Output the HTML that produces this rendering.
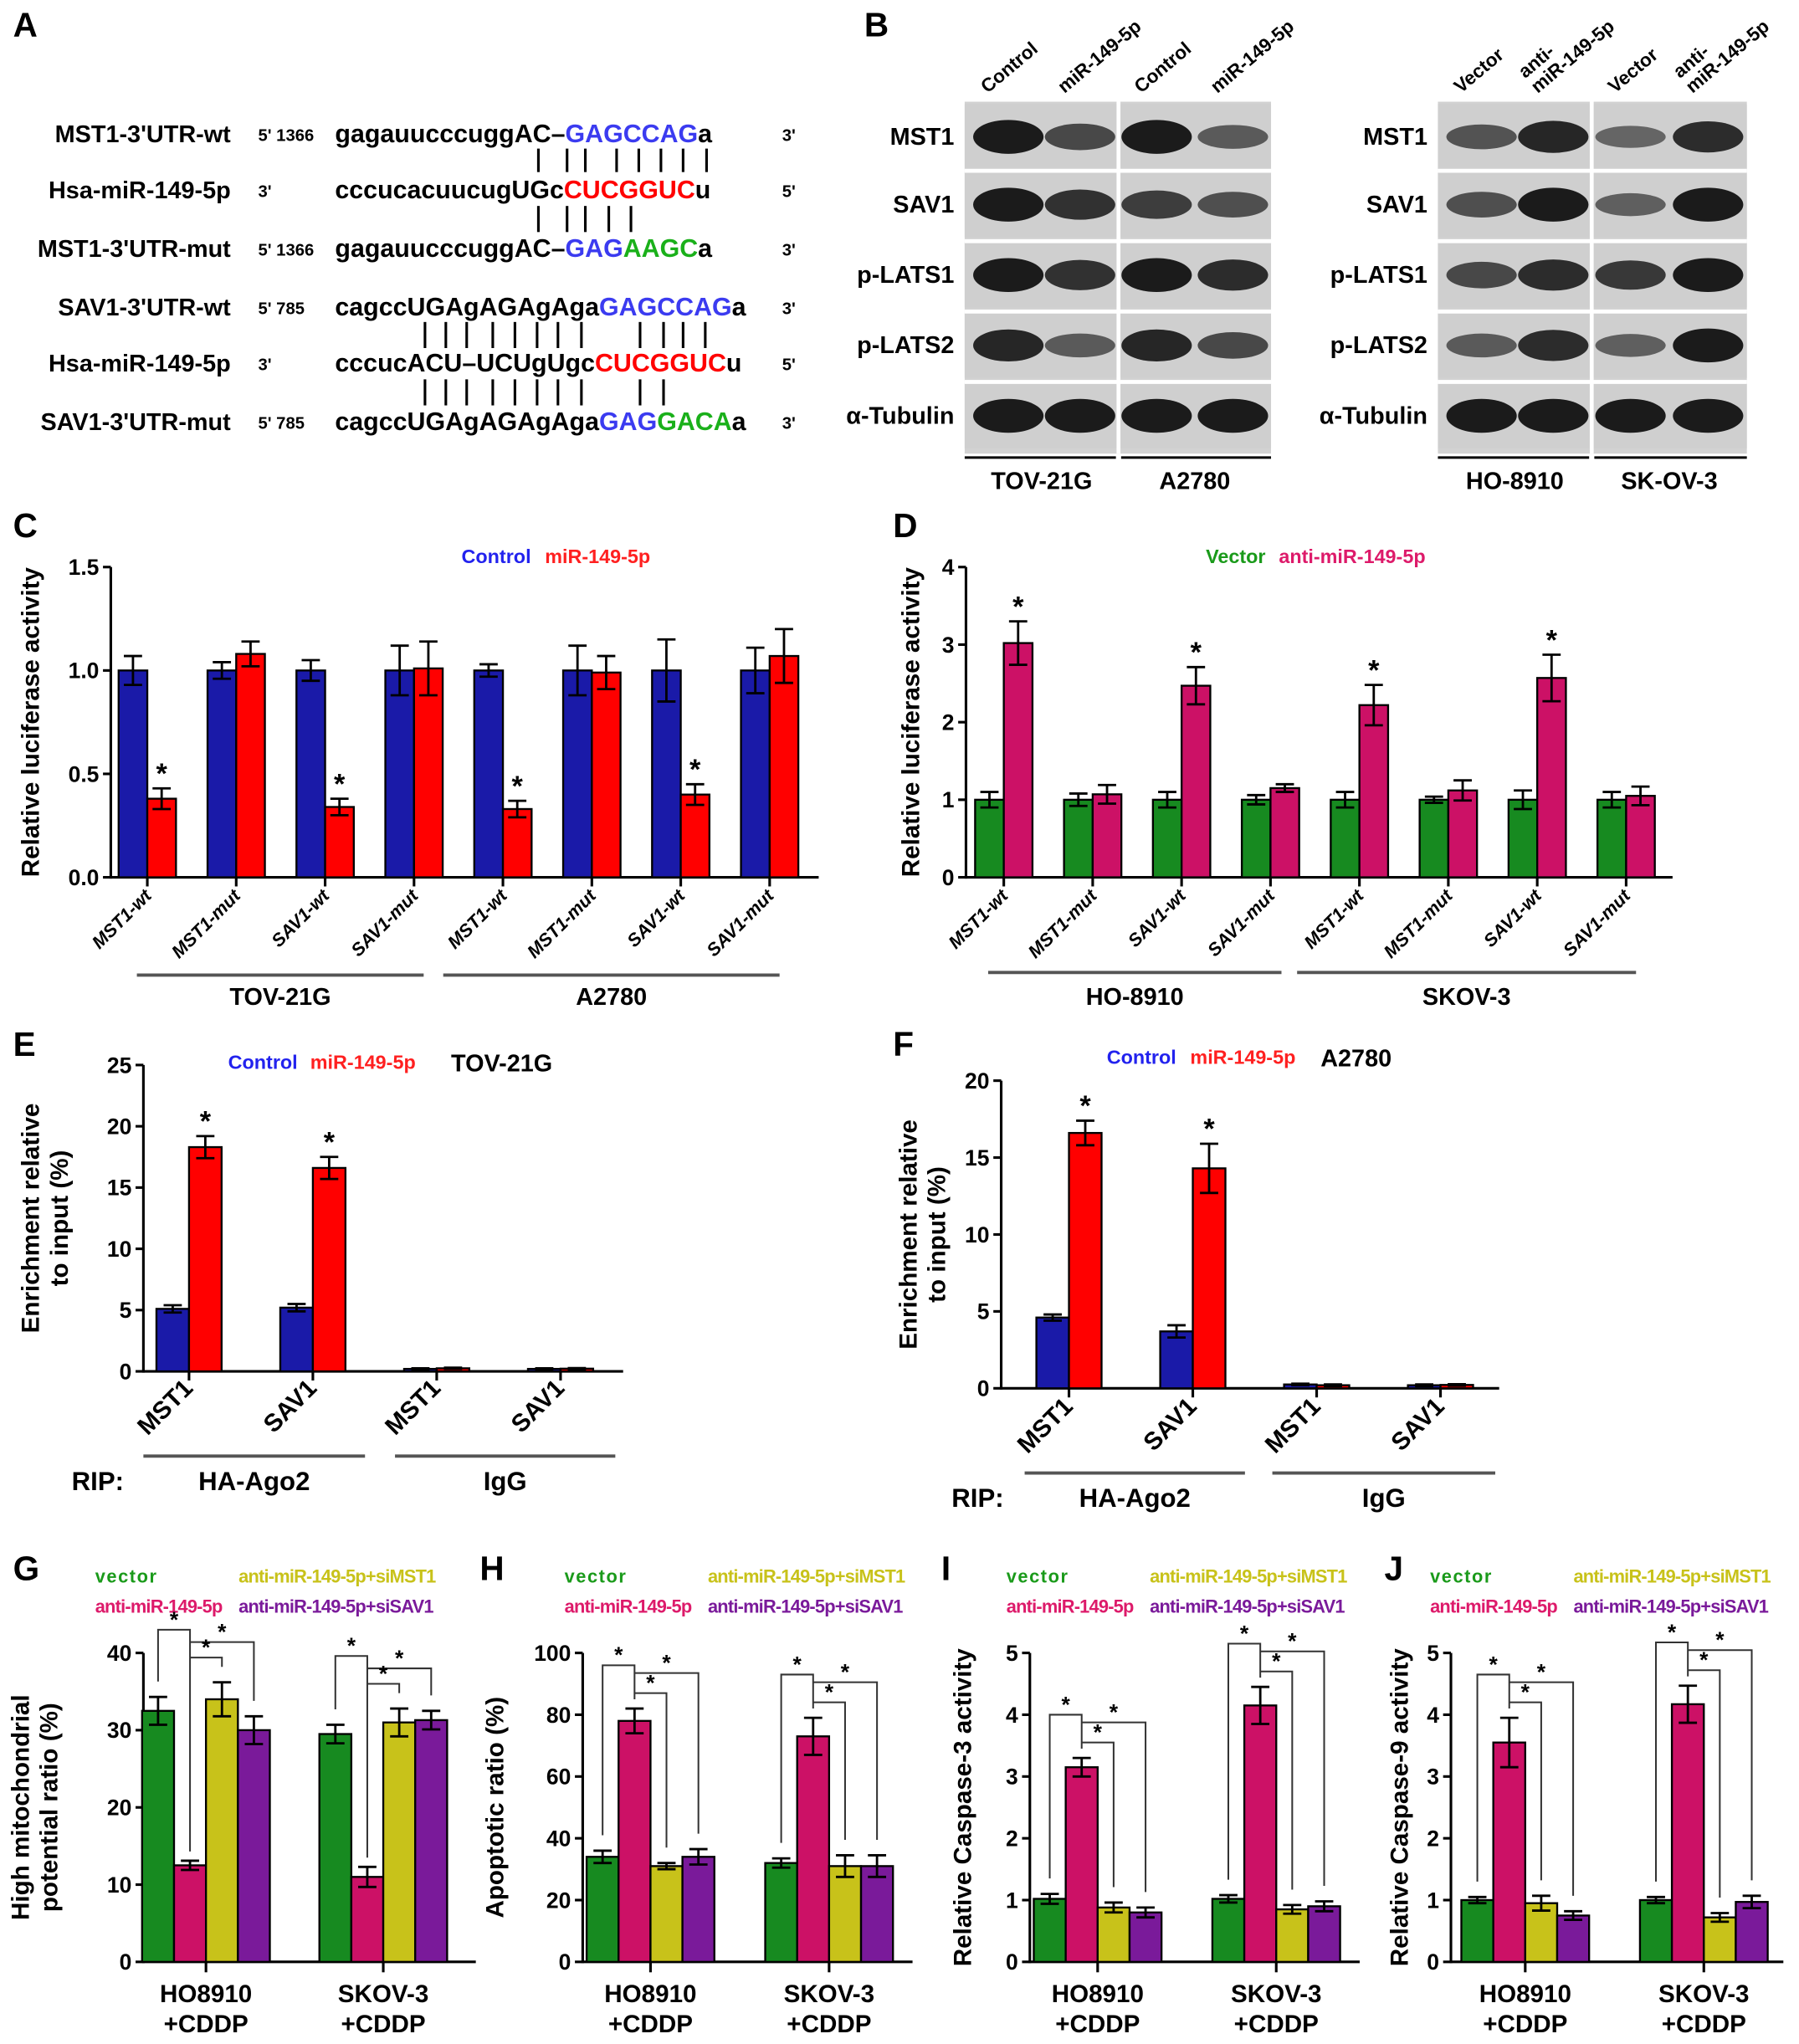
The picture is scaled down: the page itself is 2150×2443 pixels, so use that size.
<!DOCTYPE html>
<html><head><meta charset="utf-8"><style>
html,body{margin:0;padding:0;background:#fff}
svg{display:block}
text{font-family:"Liberation Sans",Arial,sans-serif;font-weight:bold}
</style></head><body>
<svg id="fig" xmlns="http://www.w3.org/2000/svg" width="2150" height="2443" viewBox="0 0 1380 1568" preserveAspectRatio="none">
<g id="panelA">
<text x="10" y="28" font-size="26">A</text>
<g font-size="18.5" text-anchor="end">
<text x="177" y="109">MST1-3'UTR-wt</text>
<text x="177" y="152">Hsa-miR-149-5p</text>
<text x="177" y="197">MST1-3'UTR-mut</text>
<text x="177" y="242">SAV1-3'UTR-wt</text>
<text x="177" y="285">Hsa-miR-149-5p</text>
<text x="177" y="330">SAV1-3'UTR-mut</text>
</g>
<g font-size="13">
<text x="198" y="108">5' 1366</text><text x="198" y="151">3'</text><text x="198" y="196">5' 1366</text>
<text x="198" y="241">5' 785</text><text x="198" y="284">3'</text><text x="198" y="329">5' 785</text>
<text x="600" y="108">3'</text><text x="600" y="151">5'</text><text x="600" y="196">3'</text>
<text x="600" y="241">3'</text><text x="600" y="284">5'</text><text x="600" y="329">3'</text>
</g>
<g font-size="19.5">
<text x="257" y="109">gagauucccuggAC–<tspan fill="#3b3bf0">GAGCCAG</tspan>a</text>
<text x="257" y="152">cccucacuucugUGc<tspan fill="#ff0000">CUCGGUC</tspan>u</text>
<text x="257" y="197">gagauucccuggAC–<tspan fill="#3b3bf0">GAG</tspan><tspan fill="#1ab01a">AAGC</tspan>a</text>
<text x="257" y="242">cagccUGAgAGAgAga<tspan fill="#3b3bf0">GAGCCAG</tspan>a</text>
<text x="257" y="285">cccucACU–UCUgUgc<tspan fill="#ff0000">CUCGGUC</tspan>u</text>
<text x="257" y="330">cagccUGAgAGAgAga<tspan fill="#3b3bf0">GAG</tspan><tspan fill="#1ab01a">GACA</tspan>a</text>
</g>
<g id="pipes" stroke="#000" stroke-width="2"></g>
</g>
<g id="panelB"></g>
<g id="charts"></g>
</svg>
<script>
const NS="http://www.w3.org/2000/svg";
function el(tag,attrs,parent,txt){const e=document.createElementNS(NS,tag);for(const k in attrs)e.setAttribute(k,attrs[k]);if(txt!==undefined)e.textContent=txt;(parent||document.getElementById('charts')).appendChild(e);return e;}

const pipes=document.getElementById('pipes');
[[413,435,449,473,490,507,524,542],[413,435,449,467,484]].forEach((xs,i)=>{
  const ys=i==0?[114,132]:[158,178];
  xs.forEach(x=>el('line',{x1:x,y1:ys[0],x2:x,y2:ys[1]},pipes));
});
[[326,342,358,378,395,412,428,446,491,509,524,541],[326,342,358,378,395,412,428,446,491,509]].forEach((xs,i)=>{
  const ys=i==0?[247,267]:[291,311];
  xs.forEach(x=>el('line',{x1:x,y1:ys[0],x2:x,y2:ys[1]},pipes));
});

const blotRows=['MST1','SAV1','p-LATS1','p-LATS2','α-Tubulin'];
const blotLeftIntensity=[[1,0.6,1,0.45],[1,0.8,0.7,0.55],[1,0.8,1,0.85],[0.9,0.45,0.9,0.6],[1,1,1,1]];
const blotRightIntensity=[[0.5,0.9,0.35,0.85],[0.55,1,0.4,1],[0.6,0.85,0.75,1],[0.45,0.85,0.4,1],[1,1,1,1]];
const B=document.getElementById('panelB');
el('text',{x:663,y:28,'font-size':26},B,'B');
function blot(x0,x1,mid,intens,heads,cells){
  const rowTop=[80,132,186,240,294],rowH=50;
  const bg=el('rect',{x:x0,y:78,width:x1-x0,height:270,fill:'#d2d2d2'},B);
  
  blotRows.forEach((r,i)=>{
    const t=el('text',{x:x0-8,y:rowTop[i]+31,'font-size':18.5,'text-anchor':'end'},B,r);
    
    el('rect',{x:x0,y:rowTop[i],width:x1-x0,height:rowH,fill:'#cfcfcf'},B);
    const cw=(mid-x0)/2, cw2=(x1-mid)/2;
    const cx=[x0+cw*0.5+4,x0+cw*1.5,mid+cw2*0.5,mid+cw2*1.5];
    intens[i].forEach((v,j)=>{
      const e=el('ellipse',{cx:cx[j],cy:rowTop[i]+25,rx:27,ry:6+v*7,fill:'#111','fill-opacity':0.35+0.6*v},B);
      
    });
    if(i>0)el('line',{x1:x0,y1:rowTop[i]-1,x2:x1,y2:rowTop[i]-1,stroke:'#fff','stroke-width':3},B);
  });
  el('line',{x1:mid,y1:78,x2:mid,y2:348,stroke:'#fff','stroke-width':3},B);
  heads.forEach((h,j)=>{
    const cw=(mid-x0)/2, cw2=(x1-mid)/2;
    const cx=[x0+cw*0.5,x0+cw*1.5,mid+cw2*0.5,mid+cw2*1.5][j];
    const t=el('text',{x:cx-12,y:72,'font-size':14.5,transform:`rotate(-40 ${cx-12} 72)`,'font-weight':'normal'},B);
    h.forEach((s,k)=>el('tspan',{x:cx-12,dy:k?-15:0},t,s));
    
  });
  el('line',{x1:x0,y1:351,x2:mid-2,y2:351,stroke:'#000','stroke-width':2},B);
  el('line',{x1:mid+2,y1:351,x2:x1,y2:351,stroke:'#000','stroke-width':2},B);
  el('text',{x:(x0+mid)/2,y:375,'font-size':18.5,'text-anchor':'middle'},B,cells[0]);
  el('text',{x:(mid+x1)/2,y:375,'font-size':18.5,'text-anchor':'middle'},B,cells[1]);
}
blot(740,975,858,blotLeftIntensity,[['Control'],['miR-149-5p'],['Control'],['miR-149-5p']],['TOV-21G','A2780']);
blot(1103,1340,1221,blotRightIntensity,[['Vector'],['miR-149-5p','anti-'],['Vector'],['miR-149-5p','anti-']],['HO-8910','SK-OV-3']);

function chart(c){
  const g=el('g',{});
  
  
  const ys=v=>c.y0-(v/c.ymax)*(c.y0-c.ytop);
  el('text',{x:c.lx,y:c.ly,'font-size':26},g,c.letter);
  el('line',{x1:c.ax,y1:c.ytop,x2:c.ax,y2:c.y0+1,stroke:'#000','stroke-width':2},g);
  el('line',{x1:c.ax,y1:c.y0,x2:c.axEnd,y2:c.y0,stroke:'#000','stroke-width':2},g);
  c.ticks.forEach((t,i)=>{
    const y=ys(c.tickVals[i]);
    el('line',{x1:c.ax-6,y1:y,x2:c.ax,y2:y,stroke:'#000','stroke-width':2},g);
    const tt=el('text',{x:c.ax-9,y:y+6,'font-size':17,'text-anchor':'end'},g,t);
    
  });
  const yt=el('text',{transform:`translate(${c.ytx},${(c.ytop+c.y0)/2}) rotate(-90)`,'font-size':19,'text-anchor':'middle'},g);
  c.ytitle.forEach((s,k)=>el('tspan',{x:0,dy:k?22:0},yt,s));
  
  c.series.forEach((vals,si)=>{
    vals.forEach((v,gi)=>{
      const x=c.gx[gi]+(si-c.series.length/2)*c.bw;
      const r=el('rect',{x:x,y:ys(v),width:c.bw,height:c.y0-ys(v),fill:c.colors[si],stroke:'#000','stroke-width':1.5},g);
      
      
      const e=c.errs[si][gi],cx=x+c.bw/2;
      el('path',{d:`M${cx},${ys(v+e)}V${ys(Math.max(v-e,0))}M${cx-7},${ys(v+e)}H${cx+7}M${cx-7},${ys(Math.max(v-e,0))}H${cx+7}`,stroke:'#000','stroke-width':1.8,fill:'none'},g);
      if(c.stars&&c.stars[si]&&c.stars[si][gi]){
        el('text',{x:cx,y:ys(v+e)-4,'font-size':22,'text-anchor':'middle'},g,'*');
      }
    });
  });
  c.legend.forEach(l=>{
    const t=el('text',{x:l[0],y:l[1],'font-size':l[4]||15,fill:l[3],'letter-spacing':l[5]||0},g,l[2]);
    
  });
  if(c.extra)c.extra(g,ys);
  return g;
}
function rotLabels(g,c,labels,y){
  labels.forEach((s,i)=>{
    const x=c.gx[i]+4;
    el('line',{x1:c.gx[i],y1:c.y0,x2:c.gx[i],y2:c.y0+7,stroke:'#000','stroke-width':2},g);
    const t=el('text',{x:x,y:y,'font-size':c.xls||14,'text-anchor':'end','font-style':c.italic?'italic':'normal',transform:`rotate(-45 ${x} ${y})`},g,s);
    
  });
}
function groupLine(g,x1,x2,y,label,ty,fs){
  el('line',{x1:x1,y1:y,x2:x2,y2:y,stroke:'#555','stroke-width':2.5},g);
  const t=el('text',{x:(x1+x2)/2,y:ty,'font-size':fs||18.5,'text-anchor':'middle'},g,label);
  
}

const cCats=['MST1-wt','MST1-mut','SAV1-wt','SAV1-mut','MST1-wt','MST1-mut','SAV1-wt','SAV1-mut'];
const cControl=[1.0,1.0,1.0,1.0,1.0,1.0,1.0,1.0];
const cControlErr=[0.07,0.04,0.05,0.12,0.03,0.12,0.15,0.11];
const cMir=[0.38,1.08,0.34,1.01,0.33,0.99,0.40,1.07];
const cMirErr=[0.05,0.06,0.04,0.13,0.04,0.08,0.05,0.13];
const cTicks=['0.0','0.5','1.0','1.5'];
const cTickVals=[0,0.5,1.0,1.5];
const cStar=[true,false,true,false,true,false,true,false];
{
const c={name:'panel-c-luciferase-chart',letter:'C',lx:10,ly:412,ax:85,axEnd:628,y0:673,ytop:435,ymax:1.5,
 ticks:cTicks,tickVals:cTickVals,ytx:30,ytitle:['Relative luciferase activity'],
 gx:cCats.map((_,i)=>113+i*68.2),bw:22,series:[cControl,cMir],errs:[cControlErr,cMirErr],
 stars:[null,cStar],colors:['#1a1aa8','#ff0000'],italic:true,
 legend:[[354,432,'Control','#2222ee'],[418,432,'miR-149-5p','#ff2020']]};
const g=chart(c);rotLabels(g,c,cCats,688);
groupLine(g,105,325,748,'TOV-21G',771);groupLine(g,340,598,748,'A2780',771);
}

const dCats=['MST1-wt','MST1-mut','SAV1-wt','SAV1-mut','MST1-wt','MST1-mut','SAV1-wt','SAV1-mut'];
const dVector=[1,1,1,1,1,1,1,1];
const dVectorErr=[0.1,0.08,0.1,0.06,0.1,0.04,0.12,0.1];
const dAnti=[3.02,1.07,2.47,1.15,2.22,1.12,2.57,1.05];
const dAntiErr=[0.28,0.12,0.24,0.05,0.26,0.13,0.3,0.12];
const dTicks=['0','1','2','3','4'];
const dTickVals=[0,1,2,3,4];
const dStar=[true,false,true,false,true,false,true,false];
{
const c={name:'panel-d-luciferase-chart',letter:'D',lx:685,ly:412,ax:741,axEnd:1283,y0:673,ytop:435,ymax:4,
 ticks:dTicks,tickVals:dTickVals,ytx:705,ytitle:['Relative luciferase activity'],
 gx:dCats.map((_,i)=>770+i*68.2),bw:22,series:[dVector,dAnti],errs:[dVectorErr,dAntiErr],
 stars:[null,dStar],colors:['#178a20','#cc1166'],italic:true,
 legend:[[925,432,'Vector','#1a9a1a'],[981,432,'anti-miR-149-5p','#dd1a6a']]};
const g=chart(c);rotLabels(g,c,dCats,688);
groupLine(g,758,983,746,'HO-8910',771);groupLine(g,995,1255,746,'SKOV-3',771);
}

const eCats=['MST1','SAV1','MST1','SAV1'];
const eControl=[5.1,5.2,0.2,0.2];
const eControlErr=[0.3,0.3,0.05,0.05];
const eMir=[18.3,16.6,0.25,0.22];
const eMirErr=[0.9,0.9,0.05,0.05];
const eTicks=['0','5','10','15','20','25'];
const eTickVals=[0,5,10,15,20,25];
const eStar=[true,true,false,false];
{
const c={name:'panel-e-rip-chart',letter:'E',lx:10,ly:810,ax:110,axEnd:478,y0:1052,ytop:817,ymax:25,
 ticks:eTicks,tickVals:eTickVals,ytx:30,ytitle:['Enrichment relative','to input (%)'],
 gx:eCats.map((_,i)=>145+i*95),bw:25,series:[eControl,eMir],errs:[eControlErr,eMirErr],
 stars:[null,eStar],colors:['#1a1aa8','#ff0000'],xls:19,
 legend:[[175,820,'Control','#2222ee'],[238,820,'miR-149-5p','#ff2020'],[346,822,'TOV-21G','#000',18.5]]};
const g=chart(c);rotLabels(g,c,eCats,1066);
groupLine(g,110,280,1117,'HA-Ago2',1143,20);groupLine(g,303,472,1117,'IgG',1143,20);
el('text',{x:55,y:1143,'font-size':20},g,'RIP:');
}

const fCats=['MST1','SAV1','MST1','SAV1'];
const fControl=[4.6,3.7,0.25,0.2];
const fControlErr=[0.2,0.4,0.05,0.05];
const fMir=[16.6,14.3,0.2,0.22];
const fMirErr=[0.8,1.6,0.05,0.05];
const fTicks=['0','5','10','15','20'];
const fTickVals=[0,5,10,15,20];
const fStar=[true,true,false,false];
{
const c={name:'panel-f-rip-chart',letter:'F',lx:685,ly:810,ax:768,axEnd:1150,y0:1065,ytop:829,ymax:20,
 ticks:fTicks,tickVals:fTickVals,ytx:703,ytitle:['Enrichment relative','to input (%)'],
 gx:fCats.map((_,i)=>820+i*95),bw:25,series:[fControl,fMir],errs:[fControlErr,fMirErr],
 stars:[null,fStar],colors:['#1a1aa8','#ff0000'],xls:19,
 legend:[[849,816,'Control','#2222ee'],[913,816,'miR-149-5p','#ff2020'],[1013,818,'A2780','#000',18.5]]};
const g=chart(c);rotLabels(g,c,fCats,1080);
groupLine(g,786,955,1130,'HA-Ago2',1156,20);groupLine(g,976,1147,1130,'IgG',1156,20);
el('text',{x:730,y:1156,'font-size':20},g,'RIP:');
}

const gjCats=['HO8910','SKOV-3'];
const gVector=[32.5,29.5], gVectorErr=[1.8,1.2];
const gAnti=[12.5,11], gAntiErr=[0.6,1.3];
const gSiMST1=[34,31], gSiMST1Err=[2.2,1.8];
const gSiSAV1=[30,31.3], gSiSAV1Err=[1.8,1.2];
const gTicks=['0','10','20','30','40'], gTickVals=[0,10,20,30,40];
const hVector=[34,32], hVectorErr=[2,1.5];
const hAnti=[78,73], hAntiErr=[4,6];
const hSiMST1=[31,31], hSiMST1Err=[1,3.5];
const hSiSAV1=[34,31], hSiSAV1Err=[2.5,3.5];
const hTicks=['0','20','40','60','80','100'], hTickVals=[0,20,40,60,80,100];
const iVector=[1.02,1.02], iVectorErr=[0.08,0.06];
const iAnti=[3.15,4.15], iAntiErr=[0.15,0.3];
const iSiMST1=[0.88,0.85], iSiMST1Err=[0.08,0.07];
const iSiSAV1=[0.8,0.9], iSiSAV1Err=[0.08,0.08];
const ijTicks=['0','1','2','3','4','5'], ijTickVals=[0,1,2,3,4,5];
const jVector=[1.0,1.0], jVectorErr=[0.05,0.05];
const jAnti=[3.55,4.17], jAntiErr=[0.4,0.3];
const jSiMST1=[0.95,0.72], jSiMST1Err=[0.12,0.07];
const jSiSAV1=[0.75,0.97], jSiSAV1Err=[0.07,0.1];
const gjColors=['#178a20','#cc1166','#c8c21a','#7a1a9a'];
function brackets(c){
  return function(g,ys){
    const r=c.ymax;
    c.series[1].forEach((v,gi)=>{
      const cx=i=>c.gx[gi]+(i-2)*c.bw+c.bw/2;
      let top=0;
      c.series.forEach((s,i)=>{top=Math.max(top,s[gi]+c.errs[i][gi]);});
      const magTop=v+c.errs[1][gi];
      const bt=i=>c.series[i][gi]+c.errs[i][gi]+0.05*r;
      const o=c.offs;
      const l0=top+o[0]*r,l1=top+o[1]*r,l2=top+o[2]*r;
      el('path',{d:`M${cx(0)},${ys(bt(0))}V${ys(l0)}H${cx(1)}V${ys(magTop+0.03*r)}`,stroke:'#333','stroke-width':1.3,fill:'none'},g);
      el('text',{x:(cx(0)+cx(1))/2,y:ys(l0)-2,'font-size':17,'text-anchor':'middle'},g,'*');
      [[3,l1],[2,l2]].forEach(([i,lv])=>{
        el('path',{d:`M${cx(1)},${ys(lv)}H${cx(i)}V${ys(bt(i))}`,stroke:'#333','stroke-width':1.3,fill:'none'},g);
        el('text',{x:(cx(1)+cx(i))/2,y:ys(lv)-2,'font-size':17,'text-anchor':'middle'},g,'*');
      });
    });
    c.gx.forEach((x,i)=>{
      el('line',{x1:x,y1:c.y0,x2:x,y2:c.y0+8,stroke:'#000','stroke-width':2},g);
      const t=el('text',{x:x,y:c.y0+31,'font-size':19,'text-anchor':'middle'},g);
      el('tspan',{x:x,dy:0},t,gjCats[i]);el('tspan',{x:x,dy:23},t,'+CDDP');
      
    });
  };
}
function gjLegend(x){
  return [[x,1214,'vector','#1a9a1a',14,1],[x+110,1214,'anti-miR-149-5p+siMST1','#c8c21a',14,-0.5],
   [x,1237,'anti-miR-149-5p','#dd1a6a',14,-0.5],[x+110,1237,'anti-miR-149-5p+siSAV1','#7a1a9a',14,-0.5]];
}
[
 {name:'panel-g-mito-chart',letter:'G',lx:10,ax:110,axEnd:365,ymax:40,ticks:gTicks,tickVals:gTickVals,ytitle:['High mitochondrial','potential ratio (%)'],ytx:22,gx:[158,294],
  series:[gVector,gAnti,gSiMST1,gSiSAV1],errs:[gVectorErr,gAntiErr,gSiMST1Err,gSiSAV1Err],leg:73,offs:[0.17,0.13,0.08]},
 {name:'panel-h-apoptosis-chart',letter:'H',lx:368,ax:447,axEnd:700,ymax:100,ticks:hTicks,tickVals:hTickVals,ytitle:['Apoptotic ratio (%)'],ytx:386,gx:[499,636],
  series:[hVector,hAnti,hSiMST1,hSiSAV1],errs:[hVectorErr,hAntiErr,hSiMST1Err,hSiSAV1Err],leg:433,offs:[0.14,0.115,0.05]},
 {name:'panel-i-caspase3-chart',letter:'I',lx:722,ax:790,axEnd:1043,ymax:5,ticks:ijTicks,tickVals:ijTickVals,ytitle:['Relative Caspase-3 activity'],ytx:745,gx:[842,979],
  series:[iVector,iAnti,iSiMST1,iSiSAV1],errs:[iVectorErr,iAntiErr,iSiMST1Err,iSiSAV1Err],leg:772,offs:[0.14,0.115,0.05]},
 {name:'panel-j-caspase9-chart',letter:'J',lx:1062,ax:1113,axEnd:1368,ymax:5,ticks:ijTicks,tickVals:ijTickVals,ytitle:['Relative Caspase-9 activity'],ytx:1080,gx:[1170,1307],
  series:[jVector,jAnti,jSiMST1,jSiSAV1],errs:[jVectorErr,jAntiErr,jSiMST1Err,jSiSAV1Err],leg:1097,offs:[0.14,0.115,0.05]}
].forEach(o=>{
  const c=Object.assign({ly:1212,y0:1505,ytop:1268,bw:24.5,colors:gjColors,legend:gjLegend(o.leg)},o);
  c.extra=brackets(c);
  chart(c);
});
</script>
</body></html>
